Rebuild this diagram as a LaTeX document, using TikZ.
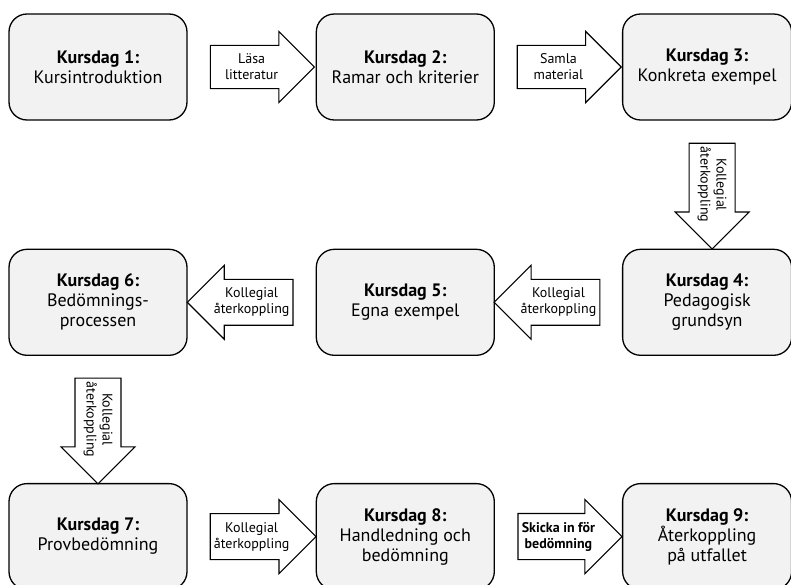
\documentclass[tikz,border=0pt]{standalone}
\usepackage{fontspec}
\setmainfont{PT Sans}
\usetikzlibrary{positioning, calc, shapes.arrows}

\begin{document}
\begin{tikzpicture}[x=1pt, y=-1pt,
    day/.style={draw, line width=1.3pt, fill=black!5, rounded corners=18pt,
        minimum width=178pt, minimum height=106pt, align=center,
        font=\fontsize{18}{20}\selectfont},
    narrow/.style={day, minimum width=169pt},
    fat/.style={draw, line width=1.1pt, fill=white, single arrow,
        single arrow head extend=14pt, single arrow head indent=0pt,
        minimum height=104pt, inner xsep=3pt, inner ysep=8pt, align=center,
        font=\fontsize{14}{16}\selectfont}]
    \clip (0,0) rectangle (791,585);

    % Kursdagar
    \node[day] (k1) at (98,67) {\textbf{Kursdag 1:}\\Kursintroduktion};
    \node[day, right=128pt of k1] (k2) {\textbf{Kursdag 2:}\\Ramar och kriterier};
    \node[narrow, right=127pt of k2] (k3) {\textbf{Kursdag 3:}\\Konkreta exempel};
    \node[narrow, below=128pt of k3] (k4) {\textbf{Kursdag 4:}\\Pedagogisk\\grundsyn};
    \node[day, left=127pt of k4] (k5) {\textbf{Kursdag 5:}\\Egna exempel};
    \node[day, left=128pt of k5] (k6) {\textbf{Kursdag 6:}\\Bedömnings-\\processen};
    \node[day, below=127pt of k6] (k7) {\textbf{Kursdag 7:}\\Provbedömning};
    \node[day, right=128pt of k7] (k8) {\textbf{Kursdag 8:}\\Handledning och\\bedömning};
    \node[narrow, right=127pt of k8] (k9) {\textbf{Kursdag 9:}\\Återkoppling\\på utfallet};

    % pilar
    \node[fat] (a12) at ($(k1.east)!0.5!(k2.west)$) {Läsa\\litteratur};
    \node[fat] (a23) at ($(k2.east)!0.5!(k3.west)$) {Samla\\material};
    \node[fat, rotate=-90, minimum height=102pt] (a34) at ($($(k3.south)!0.5!(k4.north)$) + (5,0)$) {Kollegial\\återkoppling};
    \node[fat, shape border rotate=180] (a45) at ($(k4.west)!0.5!(k5.east)$) {Kollegial\\återkoppling};
    \node[fat, shape border rotate=180] (a56) at ($(k5.west)!0.5!(k6.east)$) {Kollegial\\återkoppling};
    \node[fat, rotate=-90, minimum height=102pt] (a67) at ($(k6.south)!0.5!(k7.north)$) {Kollegial\\återkoppling};
    \node[fat] (a78) at ($(k7.east)!0.5!(k8.west)$) {Kollegial\\återkoppling};
    \node[fat] (a89) at ($(k8.east)!0.5!(k9.west)$) {\textbf{Skicka in för}\\\textbf{bedömning}};
\end{tikzpicture}
\end{document}
